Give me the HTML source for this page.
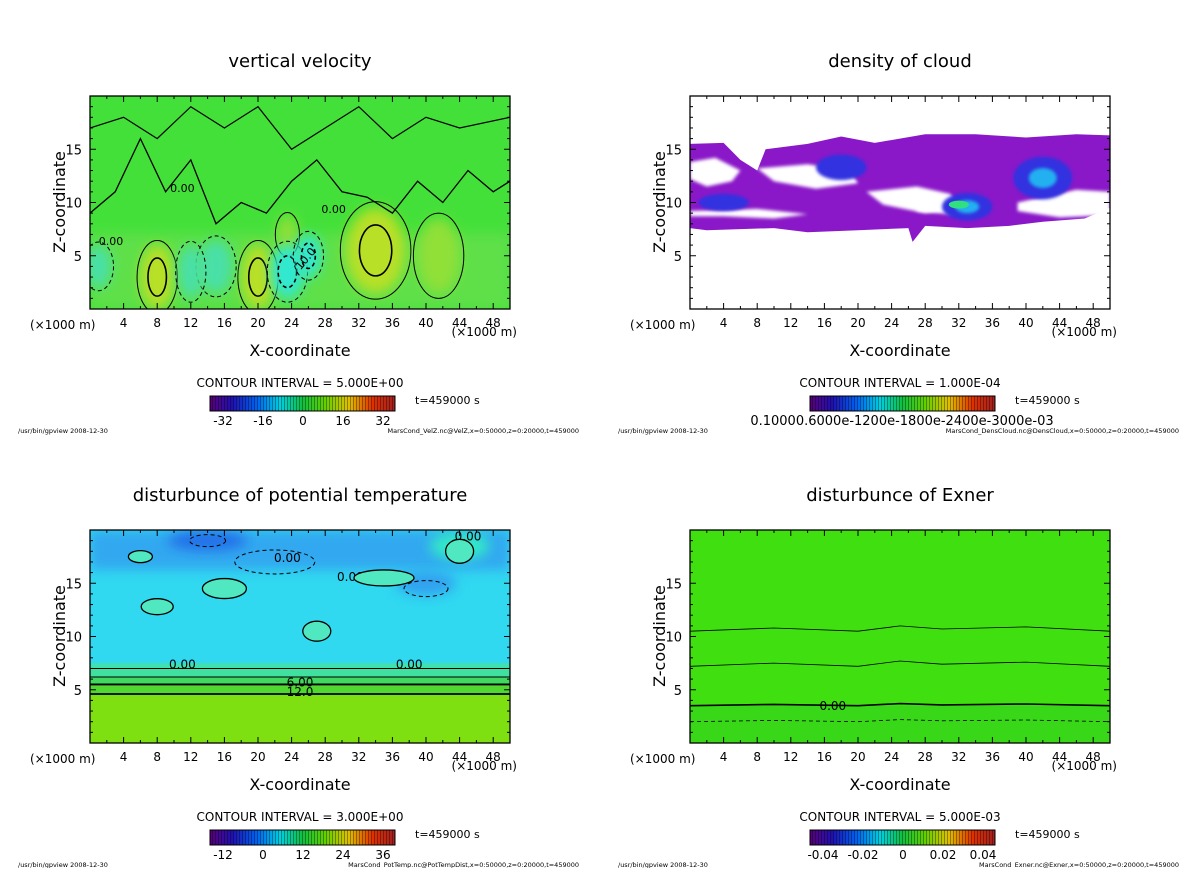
<!DOCTYPE html>
<html><head><meta charset="utf-8"><style>
body{margin:0;background:#fff;width:1200px;height:868px;overflow:hidden;font-family:"DejaVu Sans","Liberation Sans",sans-serif}
svg text{font-family:"DejaVu Sans","Liberation Sans",sans-serif}
</style></head><body>
<svg id="s" width="1200" height="868" xmlns="http://www.w3.org/2000/svg">
<defs>
<filter id="bl" x="-50%" y="-50%" width="200%" height="200%"><feGaussianBlur stdDeviation="6"/></filter>
<filter id="bl2" x="-50%" y="-50%" width="200%" height="200%"><feGaussianBlur stdDeviation="1.5"/></filter>
<linearGradient id="cbar" x1="0" x2="1">
<stop offset="0" stop-color="#5a0078"/><stop offset="0.12" stop-color="#2010b0"/><stop offset="0.25" stop-color="#0060f0"/>
<stop offset="0.38" stop-color="#00d0e0"/><stop offset="0.5" stop-color="#10c040"/><stop offset="0.62" stop-color="#60d000"/>
<stop offset="0.75" stop-color="#e0c000"/><stop offset="0.88" stop-color="#e03000"/><stop offset="1" stop-color="#a02020"/>
</linearGradient>
<pattern id="stripes" width="3" height="10" patternUnits="userSpaceOnUse"><rect x="2" width="1" height="10" fill="rgba(0,0,0,0.35)"/></pattern>
<clipPath id="c0"><rect x="90" y="96" width="420" height="213"/></clipPath>
<clipPath id="c1"><rect x="690" y="96" width="420" height="213"/></clipPath>
<clipPath id="c2"><rect x="90" y="530" width="420" height="213"/></clipPath>
<clipPath id="c3"><rect x="690" y="530" width="420" height="213"/></clipPath>
</defs>
</svg>
<script>
// ---- data ----
const xTicks=[4,8,12,16,20,24,28,32,36,40,44,48];
const zTicks=[5,10,15];
const titles=["vertical velocity","density of cloud","disturbunce of potential temperature","disturbunce of Exner"];
const intervals=["CONTOUR INTERVAL = 5.000E+00","CONTOUR INTERVAL = 1.000E-04","CONTOUR INTERVAL = 3.000E+00","CONTOUR INTERVAL = 5.000E-03"];
const cbLabels=[["-32","-16","0","16","32"],["0.10000.6000e-1200e-1800e-2400e-3000e-03"],["-12","0","12","24","36"],["-0.04","-0.02","0","0.02","0.04"]];
const footers=["MarsCond_VelZ.nc@VelZ,x=0:50000,z=0:20000,t=459000","MarsCond_DensCloud.nc@DensCloud,x=0:50000,z=0:20000,t=459000","MarsCond_PotTemp.nc@PotTempDist,x=0:50000,z=0:20000,t=459000","MarsCond_Exner.nc@Exner,x=0:50000,z=0:20000,t=459000"];
// velocity blobs: x km, z km, rx km, rz km, value
const velX=[8,20,34,23.5,41.5,23.5,26,15,12,1];
const velZ=[3,3,5.5,7,5,3.5,5,4,3.5,4];
const velRX=[2,2,3.5,1.2,2.5,2,1.5,2,1.5,1.5];
const velRZ=[3,3,4,1.8,3.5,2.5,2,2.5,2.5,2];
const velV=[12,14,12,8,7,-14,-12,-6,-5,-4];
// cloud: main outline (x km, z km)
const cloudX=[0,4,6,8,9,14,18,22,28,34,40,46,50,50,47,42,38,33,28,26.5,26,20,14,10,6,2,0];
const cloudZ=[15.5,15.6,14,13,15,15.5,16.2,15.6,16.4,16.4,16.1,16.4,16.3,9.5,8.5,8.2,7.8,7.6,7.8,6.3,7.6,7.4,7.2,7.6,7.5,7.4,7.6];
const holeX=[[8,14,19,20,15,10],[21,27,31,32,28,23],[39,46,50,50,44,39],[0,3,6,5,2,0],[27,31,33,31,27],[0,8,14,10,4,0]];
const holeZ=[[13.2,13.6,13,11.8,11.3,12],[11,11.5,10.8,9.5,9,9.8],[10,11.2,11,8.8,8.6,9.2],[13.8,14.2,13,12,11.5,12.2],[10,10.5,9.6,8.9,9.2],[9.2,9.4,8.9,8.5,8.7,8.7]];
const blueX=[33,42,18,4];
const blueZ=[9.6,12.3,13.3,10];
const blueRX=[3,3.5,3,3];
const blueRZ=[1.3,2,1.2,0.8];
// pot. temp.: layer boundaries (z km)
const ptLevels=[4.6,5.5,6.2,7];
const exLines=[10.5,7.2,3.5,2];
// ---- helpers ----
const S=document.getElementById('s');const NS='http://www.w3.org/2000/svg';
function mk(t,a,p){const e=document.createElementNS(NS,t);for(const k in a)e.setAttribute(k,a[k]);(p||S).appendChild(e);return e;}
const panels=[[90,96],[690,96],[90,530],[690,530]];
function sx(i,x){return panels[i][0]+x/50*420;}
function sz(i,z){return panels[i][1]+213-z/20*213;}
function txt(x,y,s,sz,anchor,p){const t=mk('text',{x:x,y:y,'font-size':sz,'text-anchor':anchor||'middle',fill:'#000'},p);t.textContent=s;return t;}
function poly(i,xs,zs){return xs.map((x,k)=>sx(i,x).toFixed(1)+','+sz(i,zs[k]).toFixed(1)).join(' ');}
panels.forEach(([X,Y],i)=>{
  const g=mk('g',{'clip-path':'url(#c'+i+')'});
  
  
  if(i===0){
    mk('rect',{x:X,y:Y,width:420,height:213,fill:'#44e03a'},g);
    mk('rect',{x:X,y:sz(0,7),width:420,height:sz(0,0)-sz(0,7),fill:'#5ee048',filter:'url(#bl)'},g);
    velX.forEach((x,k)=>{const v=velV[k];const col=v>0?(v>10?'#b8e028':'#90e038'):(v<-10?'#30e8d0':'#48e0a8');
      const e=mk('ellipse',{cx:sx(0,x),cy:sz(0,velZ[k]),rx:velRX[k]*8.4,ry:velRZ[k]*10.6,fill:col,filter:'url(#bl)'},g);
      
      mk('ellipse',{cx:sx(0,x),cy:sz(0,velZ[k]),rx:velRX[k]*8.4*1.2,ry:velRZ[k]*10.6*1.15,fill:'none',stroke:'#000','stroke-width':1,'stroke-dasharray':v<0?'4,3':'none'},g);
      if(Math.abs(v)>10)mk('ellipse',{cx:sx(0,x),cy:sz(0,velZ[k]),rx:velRX[k]*8.4*0.55,ry:velRZ[k]*10.6*0.6,fill:'none',stroke:'#000','stroke-width':1.6,'stroke-dasharray':v<0?'4,3':'none'},g);});
    const zl=[[0,9],[3,11],[6,16],[9,11],[12,14],[15,8],[18,10],[21,9],[24,12],[27,14],[30,11],[33,10.5],[36,9],[39,12],[42,10],[45,13],[48,11],[50,12]];
    mk('polyline',{points:poly(0,zl.map(p=>p[0]),zl.map(p=>p[1])),fill:'none',stroke:'#000','stroke-width':1.3},g);
    const zl2=[[0,17],[4,18],[8,16],[12,19],[16,17],[20,19],[24,15],[28,17],[32,19],[36,16],[40,18],[44,17],[50,18]];
    mk('polyline',{points:poly(0,zl2.map(p=>p[0]),zl2.map(p=>p[1])),fill:'none',stroke:'#000','stroke-width':1.2},g);
    txt(sx(0,26),sz(0,4.5),'10.0',11,'middle',g).setAttribute('transform','rotate(-50 '+sx(0,26)+' '+sz(0,4.5)+')');
    txt(sx(0,2.5),sz(0,6),'0.00',11,'middle',g);txt(sx(0,11),sz(0,11),'0.00',11,'middle',g);txt(sx(0,29),sz(0,9),'0.00',11,'middle',g);
  } else if(i===1){
    mk('rect',{x:X,y:Y,width:420,height:213,fill:'#fff'},g);
    const c=mk('polygon',{points:poly(1,cloudX,cloudZ),fill:'#8a18c8'},g);
    
    holeX.forEach((hx,k)=>mk('polygon',{points:poly(1,hx,holeZ[k]),fill:'#fff',filter:'url(#bl2)'},g));
    blueX.forEach((x,k)=>{mk('ellipse',{cx:sx(1,x),cy:sz(1,blueZ[k]),rx:blueRX[k]*8.4,ry:blueRZ[k]*10.6,fill:'#3030e0',filter:'url(#bl2)'},g);
      if(k<2)mk('ellipse',{cx:sx(1,x),cy:sz(1,blueZ[k]),rx:blueRX[k]*4,ry:blueRZ[k]*5,fill:'#20b0f0',filter:'url(#bl2)'},g);});
    mk('ellipse',{cx:sx(1,32),cy:sz(1,9.8),rx:10,ry:4,fill:'#30e080'},g);
  } else if(i===2){
    mk('rect',{x:X,y:Y,width:420,height:213,fill:'#30d8f0'},g);
    mk('rect',{x:X,y:Y,width:420,height:40,fill:'#30a8f0',filter:'url(#bl)'},g);
    mk('ellipse',{cx:sx(2,14),cy:sz(2,19),rx:40,ry:10,fill:'#2070e8',filter:'url(#bl)'},g);
    mk('ellipse',{cx:sx(2,40),cy:sz(2,15),rx:30,ry:12,fill:'#30a0f0',filter:'url(#bl)'},g);
    mk('ellipse',{cx:sx(2,44),cy:sz(2,18.5),rx:30,ry:14,fill:'#30e8c8',filter:'url(#bl)'},g);
    const cols=['#70e020','#50d830','#40d860','#40e0a0'];
    mk('rect',{x:X,y:sz(2,7.5),width:420,height:sz(2,0)-sz(2,7.5),fill:'#40e0b0'},g);
    ptLevels.slice().reverse().forEach((z,k)=>mk('rect',{x:X,y:sz(2,z),width:420,height:sz(2,0)-sz(2,z),fill:cols[3-k]},g));
    mk('rect',{x:X,y:sz(2,4.4),width:420,height:sz(2,0)-sz(2,4.4),fill:'#7ee010'},g);
    ptLevels.forEach((z,k)=>mk('line',{x1:X,x2:X+420,y1:sz(2,z),y2:sz(2,z),stroke:'#000','stroke-width':k<2?1.8:1},g));
    txt(sx(2,25),sz(2,5.3),'6.00',12,'middle',g);txt(sx(2,25),sz(2,4.4),'12.0',12,'middle',g);
    txt(sx(2,11),sz(2,7),'0.00',12,'middle',g);txt(sx(2,38),sz(2,7),'0.00',12,'middle',g);
    txt(sx(2,23.5),sz(2,17),'0.00',12,'middle',g);txt(sx(2,31),sz(2,15.2),'0.00',12,'middle',g);txt(sx(2,45),sz(2,19),'0.00',12,'middle',g);
    [[16,14.5,22,5],[8,12.8,16,4],[27,10.5,14,5],[35,15.5,30,4],[44,18,14,6],[6,17.5,12,3]].forEach(b=>mk('ellipse',{cx:sx(2,b[0]),cy:sz(2,b[1]),rx:b[2],ry:b[3]*2,fill:'#50e8c0',stroke:'#000','stroke-width':1.3},g));
    [[14,19,18,3],[40,14.5,22,4],[22,17,40,6]].forEach(b=>mk('ellipse',{cx:sx(2,b[0]),cy:sz(2,b[1]),rx:b[2],ry:b[3]*2,fill:'none',stroke:'#000','stroke-dasharray':'4,3'},g));
  } else {
    mk('rect',{x:X,y:Y,width:420,height:213,fill:'#40e010'},g);
    mk('rect',{x:X,y:sz(3,3.5),width:420,height:sz(3,0)-sz(3,3.5),fill:'#38d818'},g);
    exLines.forEach((z,k)=>{const xs=[0,10,20,25,30,40,50];const zs=xs.map((x,j)=>z+[0,0.3,0,0.5,0.2,0.4,0][j]*(k<2?1:0.4));
      mk('polyline',{points:poly(3,xs,zs),fill:'none',stroke:'#000','stroke-width':k===2?1.6:0.8,'stroke-dasharray':k===3?'4,3':'none'},g);});
    txt(sx(3,17),sz(3,3.1),'0.00',12,'middle',g);
  }
  const fr=mk('rect',{x:X,y:Y,width:420,height:213,fill:'none',stroke:'#000','stroke-width':1.3});
  
  for(let x=2;x<50;x+=2){const L=x%4===0?6:3;mk('line',{x1:sx(i,x),x2:sx(i,x),y1:Y+213,y2:Y+213-L,stroke:'#000'});mk('line',{x1:sx(i,x),x2:sx(i,x),y1:Y,y2:Y+L,stroke:'#000'});}
  for(let z=1;z<20;z++){const L=z%5===0?6:3;mk('line',{x1:X,x2:X+L,y1:sz(i,z),y2:sz(i,z),stroke:'#000'});mk('line',{x1:X+420,x2:X+420-L,y1:sz(i,z),y2:sz(i,z),stroke:'#000'});}
  xTicks.forEach(t=>{const e=txt(sx(i,t),Y+231,String(t),12);});
  zTicks.forEach(t=>{const e=txt(X-8,sz(i,t)+5,String(t),13,'end');});
  const yt=txt(0,0,'Z-coordinate',16);yt.setAttribute('transform','translate('+(X-25)+','+(Y+106)+') rotate(-90)');
  
  txt(X-60,Y+233,'(×1000 m)',12,'start');
  txt(X+427,Y+240,'(×1000 m)',12,'end');
  const xt=txt(X+210,Y+260,'X-coordinate',16);
  const tt=txt(X+210,Y-29,titles[i],18);
  txt(X+210,Y+291,intervals[i],12);
  const cb=mk('rect',{x:X+120,y:Y+300,width:185,height:15,fill:'url(#cbar)',stroke:'#000'});
  
  mk('rect',{x:X+120,y:Y+300,width:185,height:15,fill:'url(#stripes)'});
  const lab=cbLabels[i];
  if(lab.length===1)txt(X+212,Y+329,lab[0],13);
  else lab.forEach((l,k)=>txt(X+133+k*40,Y+329,l,12));
  txt(X+325,Y+308,'t=459000 s',11,'start');
  txt(X-72,Y+337,'/usr/bin/gpview  2008-12-30',6.5,'start');
  txt(X+489,Y+337,footers[i],6.5,'end');
});
</script>
</body></html>
